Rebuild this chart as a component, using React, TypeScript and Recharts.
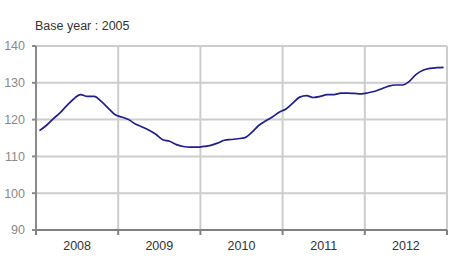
import React from "react";
import { CartesianGrid, Line, LineChart, XAxis, YAxis } from "recharts";

// monthly index, Jan 2008 .. Dec 2012
const values2008 = [117.0, 118.4, 120.2, 121.8, 123.8, 125.6, 126.8, 126.3, 126.3, 125.0, 123.2, 121.4];
const values2009 = [120.7, 120.0, 118.8, 118.0, 117.1, 116.0, 114.5, 114.1, 113.2, 112.7, 112.5, 112.5];
const values2010 = [112.7, 113.0, 113.6, 114.4, 114.6, 114.8, 115.1, 116.5, 118.4, 119.6, 120.7, 122.0];
const values2011 = [122.9, 124.5, 126.1, 126.5, 126.0, 126.3, 126.8, 126.8, 127.2, 127.2, 127.1, 127.0];
const values2012 = [127.3, 127.7, 128.4, 129.1, 129.4, 129.4, 130.4, 132.3, 133.4, 133.9, 134.1, 134.2];

const years = ["2008", "2009", "2010", "2011", "2012"];
const yTicks = [90, 100, 110, 120, 130, 140];
const title = "Base year : 2005";

const series = [values2008, values2009, values2010, values2011, values2012];
const data = series.flat().map((v, i) => ({ t: i + 0.5, value: v }));
const yearBounds = years.map((_, i) => i * 12).concat([years.length * 12]);

const W = 450;
const H = 279;
const MARGIN = { top: 46, right: 3, bottom: 19, left: 0 };
const Y_AXIS_W = 36;
const HALF_YEAR = (W - MARGIN.left - MARGIN.right - Y_AXIS_W) / years.length / 2;

const FONT = '"Liberation Sans", Arial, sans-serif';
const TEXT = "#333";

// year label sits in the middle of its year, tick marks stay on the boundaries
const YearTick = (p: any) => {
  if (p.index >= years.length) return <g />;
  return (
    <text x={p.x + HALF_YEAR} y={p.y} dy="0.71em" textAnchor="middle" fill={TEXT}>
      {years[p.index]}
    </text>
  );
};

export default function App() {
  return (
    <div
      style={{
        position: "absolute",
        left: 0,
        top: 0,
        width: W,
        height: H,
        background: "#fff",
        fontFamily: FONT,
        fontSize: 12.5,
      }}
    >
      <div style={{ position: "absolute", left: 35, top: 19, color: TEXT, whiteSpace: "nowrap" }}>{title}</div>
      <LineChart width={W} height={H} data={data} margin={MARGIN}>
        <CartesianGrid stroke="#cdcdcd" strokeWidth={2} />
        <XAxis
          type="number"
          dataKey="t"
          domain={[0, 60]}
          ticks={yearBounds}
          tick={<YearTick />}
          tickSize={5}
          tickMargin={6}
          stroke="#808080"
          strokeWidth={2}
        />
        <YAxis
          type="number"
          domain={[90, 140]}
          ticks={yTicks}
          width={Y_AXIS_W}
          tickSize={4}
          tickMargin={7}
          stroke="#8a8a8a"
          strokeWidth={2}
        />
        <Line
          dataKey="value"
          type="monotone"
          stroke="#1f1f8c"
          strokeWidth={1.7}
          dot={false}
          activeDot={false}
          isAnimationActive={false}
        />
      </LineChart>
    </div>
  );
}
